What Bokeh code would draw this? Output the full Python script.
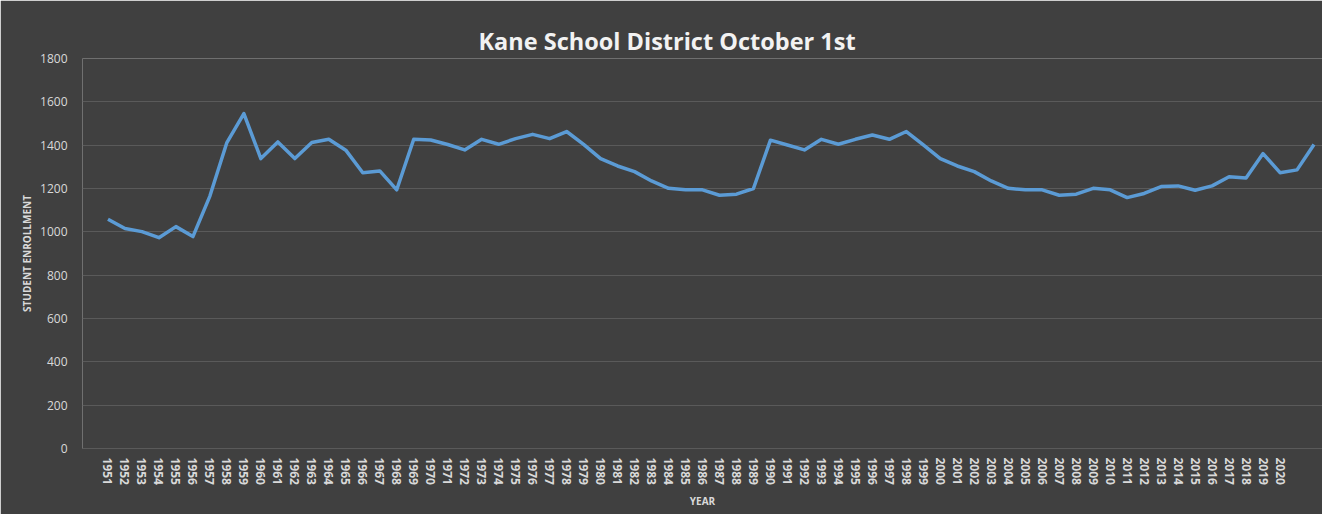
from bokeh.plotting import figure
from bokeh.models import FixedTicker, Range1d, Title
from bokeh.embed import file_html
from bokeh.resources import INLINE

title_text = "Kane School District October 1st"
tick_years = list(range(1951, 2021))
point_years = list(range(1951, 2023))
enrollment = [
    1058, 1015, 1001, 973, 1024, 978, 1165, 1412, 1546, 1338,
    1415, 1338, 1412, 1427, 1377, 1273, 1281, 1194, 1427, 1424,
    1403, 1378, 1427, 1404, 1430, 1450, 1430, 1463, 1404, 1338,
    1304, 1278, 1235, 1201, 1194, 1194, 1169, 1174, 1200, 1423,
    1401, 1378, 1427, 1404, 1427, 1447, 1427, 1463, 1401, 1338,
    1304, 1278, 1235, 1201, 1194, 1194, 1169, 1174, 1201, 1194,
    1158, 1177, 1209, 1212, 1192, 1212, 1254, 1249, 1361, 1273,
    1286, 1403,
]
y_ticks = list(range(0, 2000, 200))

BG = "#404040"
TXT = "#d9d9d9"
FONT = "Open Sans"

p = figure(width=1322, height=514, output_backend="svg", toolbar_location=None,
           x_range=Range1d(1949.5, 2022.5), y_range=Range1d(0, 1800),
           min_border_left=82, min_border_right=0, min_border_top=58, min_border_bottom=66)
p.background_fill_color = BG
p.border_fill_color = BG
p.outline_line_color = None

p.add_layout(Title(text=title_text, align="left", vertical_align="top",
                   text_font=FONT, text_font_size="23.5px", text_font_style="bold",
                   text_color="#f2f2f2", standoff=0, offset=396), "above")
# invisible spacer between the title and the plot frame
p.add_layout(Title(text=".", text_alpha=0, text_font_size="10px", standoff=5), "above")

p.line(point_years, enrollment, line_color="#5b9bd5", line_width=3.5, line_join="round")

p.xaxis.ticker = FixedTicker(ticks=tick_years)
p.xaxis.major_label_orientation = "vertical"
p.xaxis.major_label_text_font = FONT
p.xaxis.major_label_text_font_size = "12px"
p.xaxis.major_label_text_font_style = "bold"
p.xaxis.major_label_text_color = TXT
p.xaxis.major_label_standoff = 3
p.xaxis.axis_line_color = "#5a5a5a"
p.xaxis.major_tick_line_color = None
p.xaxis.minor_tick_line_color = None
p.xaxis.axis_label = "YEAR"
p.xaxis.axis_label_text_font = FONT
p.xaxis.axis_label_text_font_size = "10px"
p.xaxis.axis_label_text_font_style = "bold"
p.xaxis.axis_label_text_color = TXT
p.xaxis.axis_label_standoff = 6

p.yaxis.ticker = FixedTicker(ticks=y_ticks)
p.yaxis.major_label_text_font = FONT
p.yaxis.major_label_text_font_size = "12px"
p.yaxis.major_label_text_color = TXT
p.yaxis.major_label_standoff = 9
p.yaxis.axis_line_color = None
p.yaxis.major_tick_line_color = None
p.yaxis.minor_tick_line_color = None
p.yaxis.axis_label = "STUDENT ENROLLMENT"
p.yaxis.axis_label_text_font = FONT
p.yaxis.axis_label_text_font_size = "10px"
p.yaxis.axis_label_text_font_style = "bold"
p.yaxis.axis_label_text_color = TXT
p.yaxis.axis_label_standoff = 3

p.xgrid.grid_line_color = None
p.ygrid.grid_line_color = "#5a5a5a"
p.ygrid.grid_line_width = 1

open("out.html", "w").write(file_html(p, INLINE))
